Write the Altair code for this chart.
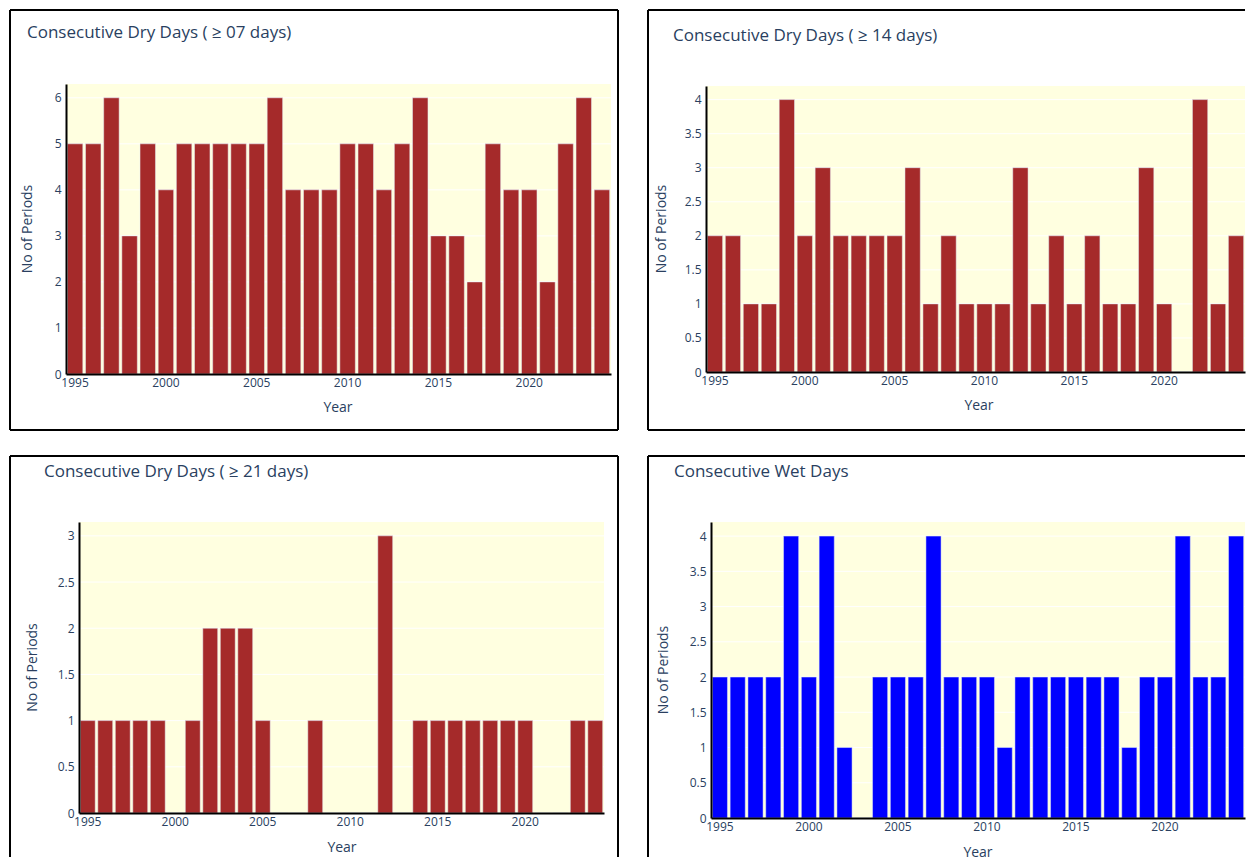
import altair as alt
import pandas as pd

years = [1995, 1996, 1997, 1998, 1999, 2000, 2001, 2002, 2003, 2004,
         2005, 2006, 2007, 2008, 2009, 2010, 2011, 2012, 2013, 2014,
         2015, 2016, 2017, 2018, 2019, 2020, 2021, 2022, 2023, 2024]
cdd07 = [5, 5, 6, 3, 5, 4, 5, 5, 5, 5, 5, 6, 4, 4, 4, 5, 5, 4, 5, 6, 3, 3, 2, 5, 4, 4, 2, 5, 6, 4]
cdd14 = [2, 2, 1, 1, 4, 2, 3, 2, 2, 2, 2, 3, 1, 2, 1, 1, 1, 3, 1, 2, 1, 2, 1, 1, 3, 1, 0, 4, 1, 2]
cdd21 = [1, 1, 1, 1, 1, 0, 1, 2, 2, 2, 1, 0, 0, 1, 0, 0, 0, 3, 0, 1, 1, 1, 1, 1, 1, 1, 0, 0, 1, 1]
cwd = [2, 2, 2, 2, 4, 2, 4, 1, 0, 2, 2, 2, 4, 2, 2, 2, 1, 2, 2, 2, 2, 2, 2, 1, 2, 2, 4, 2, 2, 4]

titles = ["Consecutive Dry Days ( \u2265 07 days)", "Consecutive Dry Days ( \u2265 14 days)",
          "Consecutive Dry Days ( \u2265 21 days)", "Consecutive Wet Days"]
x_ticks = [1995, 2000, 2005, 2010, 2015, 2020]
y_ticks_a = [0, 1, 2, 3, 4, 5, 6]
y_ticks_b = [0, 0.5, 1, 1.5, 2, 2.5, 3, 3.5, 4]
y_ticks_c = [0, 0.5, 1, 1.5, 2, 2.5, 3]

TXT = "#2a3f5f"
FONT = "Open Sans"
BG = "#FFFFE0"
one = pd.DataFrame({"k": [0]})


def hline(x1, x2, y):
    return alt.Chart(one).mark_rule(color="black", strokeWidth=2).encode(
        x=alt.value(x1), x2=alt.value(x2), y=alt.value(y))


def vline(x, y1, y2):
    return alt.Chart(one).mark_rule(color="black", strokeWidth=2).encode(
        x=alt.value(x), y=alt.value(y1), y2=alt.value(y2))


def text(t, x, y, size, align="left", angle=0):
    return alt.Chart(one).mark_text(font=FONT, fontSize=size, color=TXT, align=align,
                                     baseline="middle", angle=angle).encode(
        x=alt.value(x), y=alt.value(y), text=alt.value(t))


def panel(vals, color, title, w, h, xl, yt, ymax, yvals, lines, tpos, ytx, xtx, xty):
    df = pd.DataFrame({"Year": years, "Periods": vals})
    yscale = alt.Scale(domain=[0, ymax], nice=False, zero=True, range=[h, yt])
    yaxis = alt.Axis(values=yvals, format="~g", title=None, grid=False,
                     ticks=False, domainColor="black", domainWidth=2,
                     labelPadding=5, offset=-xl, zindex=1)
    bg = alt.Chart(one).mark_rect(color=BG).encode(
        x=alt.value(xl), x2=alt.value(w), y=alt.value(yt), y2=alt.value(h))
    grid = alt.Chart(pd.DataFrame({"Periods": yvals})).mark_rule(color="white", strokeWidth=1).encode(
        y=alt.Y("Periods:Q", scale=yscale, axis=yaxis), x=alt.value(xl), x2=alt.value(w))
    bars = alt.Chart(df).mark_bar(color=color, stroke="#E5ECF6", strokeWidth=0.5).encode(
        x=alt.X("Year:O",
                scale=alt.Scale(paddingInner=0.15, paddingOuter=0.075, range=[xl, w]),
                axis=alt.Axis(values=x_ticks, labelAngle=0, title=None, grid=False, ticks=False,
                              domainColor="black", domainWidth=2, labelPadding=3, zindex=1)),
        y=alt.Y("Periods:Q", scale=yscale, axis=yaxis),
        tooltip=["Year:O", "Periods:Q"],
    )
    layers = [bg, grid, bars] + lines + [
        text(title, tpos[0], tpos[1], 17),
        text("No of Periods", ytx, (h + yt) / 2, 14, align="center", angle=270),
        text("Year", xtx, xty, 14, align="center"),
    ]
    return alt.layer(*layers).properties(width=w, height=h)


# top-left: plot origin (66, 84)
p1 = panel(cdd07, "#A52A2A", titles[0], 545, 290, 0, 0, 6.3, y_ticks_a,
           [hline(-56, 552, -74), hline(-56, 552, 346), vline(-56, -74, 346), vline(552, -74, 346)],
           (-39, -51), -38, 272, 324)
# top-right: plot origin (706, 84)
p2 = panel(cdd14, "#A52A2A", titles[1], 539, 288, 0, 2, 4.2, y_ticks_b,
           [hline(-58, 539, -74), hline(-58, 539, 346), vline(-58, -74, 346)],
           (-33, -48), -44, 273, 322)
# bottom-left: plot origin (66, 522)
p3 = panel(cdd21, "#A52A2A", titles[2], 538, 291, 13, 0, 3.15, y_ticks_c,
           [hline(-56, 552, -66), vline(-56, -66, 335), vline(552, -66, 335)],
           (-22, -50), -33, 276, 326)
# bottom-right: plot origin (706, 522)
p4 = panel(cwd, "#0000FF", titles[3], 539, 296, 5, 0, 4.2, y_ticks_b,
           [hline(-58, 539, -66), vline(-58, -66, 335)],
           (-32, -50), -42, 272, 331)

chart = alt.concat(
    p1, p2, p3, p4, columns=2, align="each", bounds="full",
    spacing={"row": 24, "column": 28},
).properties(
    padding={"left": 1, "top": 1, "right": 0, "bottom": 0}
).configure_view(
    stroke=None, fill=None
).configure_axis(
    labelFont=FONT, labelFontSize=12, labelColor=TXT
)

chart.save("out.html", embed_options={"renderer": "svg", "actions": False})
